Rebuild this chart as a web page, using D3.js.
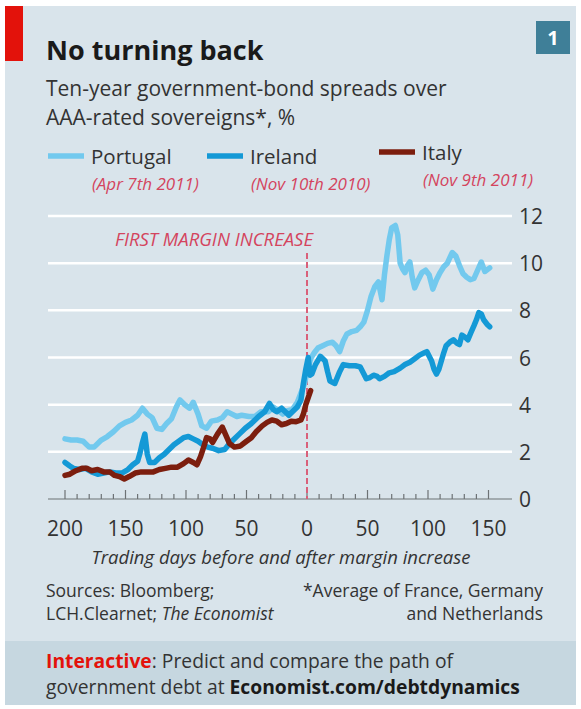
<!DOCTYPE html>
<html>
<head>
<meta charset="utf-8">
<script src="https://cdn.jsdelivr.net/npm/d3@7"></script>
<style>
  html, body { margin: 0; padding: 0; background: #fff; }
  svg { display: block; }
  text { font-family: "Open Sans", "Noto Sans", sans-serif; }
</style>
</head>
<body>
<svg id="chart" width="581" height="709"></svg>
<script>
// Ten-year bond spreads over AAA sovereigns, by trading day relative to the first margin increase
const portugalDays = [-200,-195,-190,-185,-180,-176,-170,-165,-160,-155,-150,-145,-140,-136,-132,-128,-124,-120,-116,-112,-108,-105,-101,-97,-94,-90,-87,-83,-79,-74,-70,-66,-62,-58,-54,-48,-43,-38,-32,-28,-24,-20,-16,-12,-8,-5,-2,0,3,6,9,13,17,21,24,27,30,33,37,41,44,47,50,53,56,59,62,64,66,68,70,73,75,77,79,81,83,85,87,89,92,95,98,101,104,107,110,113,116,120,123,126,129,132,135,138,141,144,147,151];
const portugalValues = [2.55,2.5,2.5,2.45,2.2,2.2,2.5,2.65,2.85,3.1,3.25,3.35,3.55,3.85,3.6,3.45,3.0,2.95,3.2,3.4,3.9,4.2,4.0,3.85,4.1,3.6,3.1,3.0,3.3,3.35,3.45,3.7,3.6,3.5,3.55,3.5,3.5,3.7,3.7,3.9,3.75,3.6,3.75,3.8,4.1,4.5,4.9,5.4,5.95,6.2,6.4,6.5,6.6,6.65,6.5,6.25,6.7,7.0,7.1,7.15,7.3,7.5,8.0,8.6,9.0,9.2,8.45,9.5,10.3,11.0,11.5,11.6,11.2,10.0,9.75,9.6,9.9,10.05,9.4,8.95,9.3,9.6,9.7,9.5,8.9,9.3,9.6,9.85,10.0,10.45,10.3,9.9,9.55,9.4,9.3,9.35,9.7,10.05,9.65,9.8];

const irelandDays = [-200,-196,-193,-188,-183,-178,-173,-168,-163,-158,-153,-148,-144,-140,-138,-136,-134,-132,-130,-126,-122,-118,-114,-110,-106,-102,-98,-94,-90,-86,-82,-78,-73,-68,-64,-61,-56,-51,-46,-40,-35,-31,-28,-25,-21,-18,-15,-11,-8,-5,-3,-1,1,2.5,4,7,11,15,17,19,23,27,30,35,40,44,47,49,52,55,58,60,64,68,72,77,81,85,89,93,97,99,101,103,105,107,109,111,113,115,118,121,124,126,128,131,133,135,138,140,142,144,146,149,151];
const irelandValues = [1.55,1.4,1.3,1.25,1.3,1.15,1.05,1.1,1.15,1.1,1.1,1.25,1.45,1.6,1.95,2.4,2.75,1.9,1.55,1.55,1.75,1.9,2.1,2.3,2.45,2.6,2.65,2.55,2.45,2.3,2.2,2.15,2.05,2.1,2.35,2.5,2.75,3.0,3.2,3.5,3.7,4.05,3.8,3.7,3.85,3.7,3.55,3.75,3.9,4.2,4.9,5.5,6.0,5.25,5.3,5.7,6.05,5.85,5.4,5.0,4.9,5.4,5.7,5.65,5.65,5.6,5.3,5.1,5.15,5.25,5.2,5.1,5.2,5.35,5.4,5.55,5.7,5.8,5.95,6.1,6.2,6.25,6.05,5.85,5.5,5.3,5.5,5.85,6.2,6.5,6.65,6.75,6.6,6.55,6.95,6.85,6.75,7.0,7.35,7.6,7.9,7.85,7.6,7.4,7.3];

const italyDays = [-200,-196,-191,-186,-182,-178,-173,-168,-163,-159,-155,-151,-147,-142,-137,-132,-127,-122,-117,-112,-107,-102,-98,-94,-91,-88,-86,-83,-80,-78,-74,-70,-67,-64,-60,-55,-50,-46,-42,-37,-33,-29,-25,-21,-17,-13,-9,-5,-3,-1,1,3];
const italyValues = [1.0,1.05,1.2,1.3,1.3,1.2,1.25,1.15,1.15,1.0,0.95,0.85,0.95,1.1,1.15,1.15,1.15,1.25,1.3,1.35,1.35,1.5,1.65,1.55,1.45,1.8,2.1,2.6,2.55,2.4,2.75,3.05,2.7,2.35,2.2,2.25,2.45,2.6,2.85,3.1,3.25,3.35,3.3,3.15,3.2,3.3,3.28,3.35,3.6,4.0,4.3,4.6];

const seriesNames = ["Portugal", "Ireland", "Italy"];
const seriesDates = ["(Apr 7th 2011)", "(Nov 10th 2010)", "(Nov 9th 2011)"];
const seriesColors = ["#72c9ee", "#1499d6", "#7c1e0e"];

const yTicks = [0, 2, 4, 6, 8, 10, 12];
const xMajorTicks = [-200, -150, -100, -50, 0, 50, 100, 150];
const xTickLabels = ["200", "150", "100", "50", "0", "50", "100", "150"];

const svg = d3.select("#chart");
const W = 581, H = 709;

// panel and frame
svg.append("rect").attr("width", W).attr("height", H).attr("fill", "#ffffff");
svg.append("rect").attr("x", 5).attr("y", 6).attr("width", 571).attr("height", 699).attr("fill", "#d9e4eb");
svg.append("rect").attr("x", 5).attr("y", 641).attr("width", 571).attr("height", 64).attr("fill", "#c6d7e0");
svg.append("rect").attr("x", 5).attr("y", 6).attr("width", 18).attr("height", 55).attr("fill", "#e3120b");

// chart number badge
svg.append("rect").attr("x", 536).attr("y", 21).attr("width", 34).attr("height", 33).attr("fill", "#3f7f98");
svg.append("text").attr("x", 553).attr("y", 45).attr("text-anchor", "middle")
  .attr("fill", "#ffffff").attr("font-size", 20).attr("font-weight", 700).text("1");

// headings
svg.append("text").attr("x", 46).attr("y", 60).attr("fill", "#1a1a1a")
  .attr("font-size", 27).attr("font-weight", 700).text("No turning back");
svg.append("text").attr("x", 46).attr("y", 96).attr("fill", "#333")
  .attr("font-size", 21).text("Ten-year government-bond spreads over");
svg.append("text").attr("x", 46).attr("y", 125).attr("fill", "#333")
  .attr("font-size", 21).text("AAA-rated sovereigns*, %");

// legend: swatch, country name, and the date of the first margin increase
const legendX = [48, 207, 379];
const legendY = [156, 156, 152];
seriesNames.forEach((name, i) => {
  svg.append("line").attr("x1", legendX[i]).attr("x2", legendX[i] + 36)
    .attr("y1", legendY[i]).attr("y2", legendY[i])
    .attr("stroke", seriesColors[i]).attr("stroke-width", 5.5);
  svg.append("text").attr("x", legendX[i] + 43).attr("y", legendY[i] + 8)
    .attr("fill", "#333").attr("font-size", 20.5).text(name);
  svg.append("text").attr("x", legendX[i] + 44).attr("y", legendY[i] + 34)
    .attr("fill", "#d4445e").attr("font-size", 17).attr("font-style", "italic").text(seriesDates[i]);
});

// scales
const x = d3.scaleLinear().domain([-200, 150]).range([65, 488.5]);
const y = d3.scaleLinear().domain([0, 12]).range([499, 216]);
const plotLeft = 48, plotRight = 512;

// gridlines
svg.append("g").selectAll("line").data(yTicks.filter(d => d > 0)).join("line")
  .attr("x1", plotLeft).attr("x2", plotRight)
  .attr("y1", d => y(d)).attr("y2", d => y(d))
  .attr("stroke", "#ffffff").attr("stroke-width", 2.5);

// y labels on the right
svg.append("g").selectAll("text").data(yTicks).join("text")
  .attr("x", 519).attr("y", d => y(d) + 8)
  .attr("fill", "#333").attr("font-size", 21).text(d => d);

// x axis with minor ticks every 10 days
const xAxis = svg.append("g").attr("transform", `translate(0,${y(0)})`);
xAxis.append("line").attr("x1", plotLeft).attr("x2", plotRight).attr("y1", 0).attr("y2", 0)
  .attr("stroke", "#6d7275").attr("stroke-width", 1.2);
const minorTicks = d3.range(-200, 151, 10);
xAxis.selectAll("line.tick").data(minorTicks).join("line").attr("class", "tick")
  .attr("x1", d => x(d)).attr("x2", d => x(d))
  .attr("y1", 0).attr("y2", d => (d % 50 === 0 ? -9 : -5))
  .attr("stroke", "#6d7275").attr("stroke-width", 1.2);
xAxis.selectAll("text").data(xMajorTicks).join("text")
  .attr("x", d => x(d)).attr("y", 37).attr("text-anchor", "middle")
  .attr("fill", "#333").attr("font-size", 21).text((d, i) => xTickLabels[i]);

svg.append("text").attr("x", 281).attr("y", 564).attr("text-anchor", "middle")
  .attr("fill", "#333").attr("font-size", 18.5).attr("font-style", "italic")
  .text("Trading days before and after margin increase");

// margin increase marker
svg.append("line").attr("x1", x(0)).attr("x2", x(0)).attr("y1", 253).attr("y2", y(0))
  .attr("stroke", "#d9607a").attr("stroke-width", 2).attr("stroke-dasharray", "6,3");
svg.append("text").attr("x", x(0) + 6).attr("y", 246).attr("text-anchor", "end")
  .attr("fill", "#d4445e").attr("font-size", 18.5).attr("font-style", "italic")
  .text("FIRST MARGIN INCREASE");

// series lines
const line = d3.line().x(d => x(d[0])).y(d => y(d[1])).curve(d3.curveLinear);
const series = [
  d3.zip(portugalDays, portugalValues),
  d3.zip(irelandDays, irelandValues),
  d3.zip(italyDays, italyValues)
];
series.forEach((pts, i) => {
  svg.append("path").datum(pts).attr("d", line).attr("fill", "none")
    .attr("stroke", seriesColors[i]).attr("stroke-width", 5.5)
    .attr("stroke-linejoin", "round").attr("stroke-linecap", "round");
});

// sources and notes
svg.append("text").attr("x", 46).attr("y", 597).attr("fill", "#333").attr("font-size", 17.5)
  .text("Sources: Bloomberg;");
const src2 = svg.append("text").attr("x", 46).attr("y", 620).attr("fill", "#333").attr("font-size", 17.5);
src2.append("tspan").text("LCH.Clearnet; ");
src2.append("tspan").attr("font-style", "italic").text("The Economist");
svg.append("text").attr("x", 543).attr("y", 597).attr("text-anchor", "end").attr("fill", "#333")
  .attr("font-size", 17.5).text("*Average of France, Germany");
svg.append("text").attr("x", 543).attr("y", 620).attr("text-anchor", "end").attr("fill", "#333")
  .attr("font-size", 17.5).text("and Netherlands");

// footer promotion
const f1 = svg.append("text").attr("x", 46).attr("y", 668).attr("fill", "#333").attr("font-size", 19.3);
f1.append("tspan").attr("fill", "#e3120b").attr("font-weight", 700).text("Interactive");
f1.append("tspan").text(": Predict and compare the path of");
const f2 = svg.append("text").attr("x", 46).attr("y", 694).attr("fill", "#333").attr("font-size", 19.3);
f2.append("tspan").text("government debt at ");
f2.append("tspan").attr("font-weight", 700).attr("fill", "#1a1a1a").text("Economist.com/debtdynamics");
</script>
</body>
</html>
